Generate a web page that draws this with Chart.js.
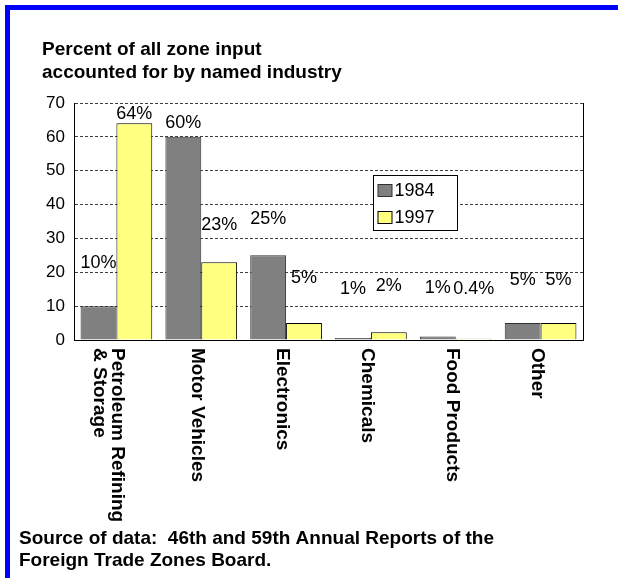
<!DOCTYPE html>
<html>
<head>
<meta charset="utf-8">
<script src="https://cdn.jsdelivr.net/npm/chart.js@4/dist/chart.umd.min.js"></script>
<style>
  html, body { margin: 0; padding: 0; background: #fff; }
  #wrap { position: relative; width: 618px; height: 578px; overflow: hidden; }
  #frame { position: absolute; left: 5px; top: 5px; right: 0; bottom: 0;
           border-left: 5px solid #0000ff; border-top: 5px solid #0000ff; }
  canvas { position: absolute; left: 0; top: 0; }
</style>
</head>
<body>
<div id="wrap">
  <div id="frame"></div>
  <canvas id="chart" width="618" height="578"></canvas>
</div>
<script>
// data
const categories = [['Petroleum Refining', '& Storage'], 'Motor Vehicles', 'Electronics', 'Chemicals', 'Food Products', 'Other'];
const years = ['1984', '1997'];
const share1984 = [10, 60, 25, 0.6, 1, 5];
const share1997 = [64, 23, 5, 2.3, 0.4, 5];
const text1984 = ['10%', '60%', '25%', '1%', '1%', '5%'];
const text1997 = ['64%', '23%', '5%', '2%', '0.4%', '5%'];
const yMin = 0, yMax = 70, yStep = 10;

const titleLines = ['Percent of all zone input', 'accounted for by named industry'];
const sourceLines = ['Source of data:  46th and 59th Annual Reports of the', 'Foreign Trade Zones Board.'];

// the value labels float above the bars as in the original (axis units)
const labelAt1984 = [23.2, 64.6, 36.2, 15.6, 15.8, 18.3];
const labelAt1997 = [67.1, 34.3, 18.9, 16.5, 15.4, 18.3];

const FONT = 'Arial, "Liberation Sans", sans-serif';

const extras = {
  id: 'extras',
  afterDatasetsDraw(chart) {
    const ctx = chart.ctx;
    const area = chart.chartArea;
    const x = chart.scales.x, y = chart.scales.y;

    // right edge of the plot
    ctx.save();
    ctx.strokeStyle = '#000';
    ctx.lineWidth = 1;
    ctx.beginPath();
    ctx.moveTo(Math.round(area.right) + 0.5, area.top);
    ctx.lineTo(Math.round(area.right) + 0.5, area.bottom);
    ctx.stroke();

    // value labels
    ctx.fillStyle = '#000';
    ctx.font = '18px ' + FONT;
    ctx.textAlign = 'center';
    ctx.textBaseline = 'alphabetic';
    chart.data.datasets.forEach((ds, d) => {
      const meta = chart.getDatasetMeta(d);
      meta.data.forEach((bar, i) => {
        ctx.fillText(ds.valueText[i], bar.x, y.getPixelForValue(ds.valueAt[i]) + 6.5);
      });
    });

    // category labels, reading top to bottom
    ctx.font = 'bold 19px ' + FONT;
    ctx.textAlign = 'left';
    chart.data.labels.forEach((lab, i) => {
      const lines = Array.isArray(lab) ? lab : [lab];
      const n = lines.length;
      const cx = x.getPixelForValue(i) - 2 - 4.5 * (n - 1);
      lines.forEach((line, j) => {
        const mid = cx + ((n - 1) / 2 - j) * 18;
        ctx.save();
        ctx.translate(mid - 6.8, area.bottom + 8);
        ctx.rotate(Math.PI / 2);
        ctx.fillText(line, 0, 0);
        ctx.restore();
      });
    });

    // legend box
    const lx = 373.5, ly = 175.5;
    ctx.fillStyle = '#fff';
    ctx.fillRect(lx, ly, 84, 55);
    ctx.strokeStyle = '#000';
    ctx.strokeRect(lx, ly, 84, 55);
    ctx.font = '18px ' + FONT;
    ctx.textBaseline = 'middle';
    chart.data.datasets.forEach((ds, d) => {
      const cy = ly + 15 + d * 27;
      ctx.fillStyle = ds.backgroundColor;
      ctx.fillRect(lx + 4.5, cy - 6, 14, 12);
      ctx.strokeStyle = ds.borderColor;
      ctx.strokeRect(lx + 4.5, cy - 6, 14, 12);
      ctx.fillStyle = '#000';
      ctx.fillText(ds.label, lx + 21, cy + 1);
    });

    // title and source note
    ctx.textBaseline = 'alphabetic';
    ctx.font = 'bold 19px ' + FONT;
    titleLines.forEach((t, i) => ctx.fillText(t, 42, 55 + i * 23));
    sourceLines.forEach((t, i) => ctx.fillText(t, 19, 544 + i * 22));
    ctx.restore();
  }
};

new Chart(document.getElementById('chart'), {
  type: 'bar',
  data: {
    labels: categories,
    datasets: [
      { label: years[0], data: share1984, backgroundColor: '#808080', borderColor: '#303030',
        borderWidth: 1, valueText: text1984, valueAt: labelAt1984 },
      { label: years[1], data: share1997, backgroundColor: '#ffff80', borderColor: '#000000',
        borderWidth: 1, valueText: text1997, valueAt: labelAt1997 }
    ]
  },
  options: {
    responsive: false,
    animation: false,
    layout: { padding: { top: 103, right: 35, left: 0, bottom: 0 } },
    datasets: { bar: { categoryPercentage: 0.845, barPercentage: 1 } },
    plugins: { legend: { display: false }, tooltip: { enabled: false } },
    scales: {
      x: {
        grid: { display: false },
        border: { color: '#000' },
        ticks: { display: false },
        afterFit(s) { s.height = 238; }
      },
      y: {
        min: yMin, max: yMax,
        ticks: { stepSize: yStep, color: '#000', padding: 9, font: { family: FONT, size: 17 } },
        grid: { color: '#404040', drawTicks: false },
        border: { color: '#000', dash: [3, 2] },
        afterFit(s) { s.width = 74; }
      }
    }
  },
  plugins: [extras]
});
</script>
</body>
</html>
